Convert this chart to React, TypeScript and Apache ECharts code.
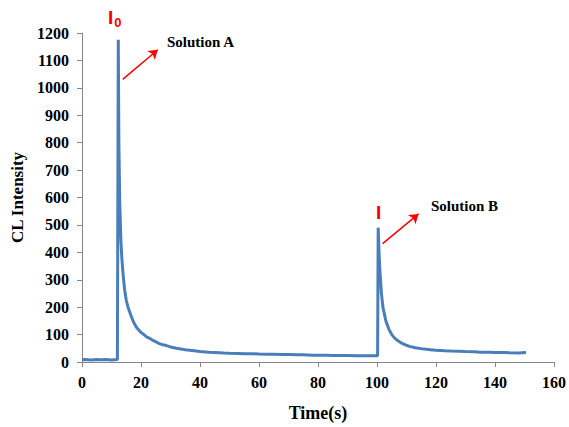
import React, { useEffect, useRef } from "react";
import * as echarts from "echarts";

const timeS = [
  0, 1, 2, 3, 4, 5, 6, 7, 8, 9, 10, 11, 12, 12.2,
  12.3, 12.5, 12.8, 13.2, 13.5, 14, 14.5, 15, 15.6, 16.5, 17.5, 18.5, 20, 21, 22, 23, 24, 25, 26, 27, 28.6, 30,
  32, 35, 38, 40, 43, 45, 48, 50, 53, 55, 58, 60, 63, 65, 68, 70, 73, 75, 78, 80, 83, 85, 88, 90, 93, 95, 98, 100.2,
  100.4, 100.7, 101, 101.5, 102, 103, 104, 105, 106, 107, 108, 110, 111, 113, 116, 118, 120, 123, 125, 128, 130, 133, 135, 138, 140, 143, 145, 148, 150.5,
];
const intensity = [
  8, 9, 8, 7, 8, 9, 8, 8, 9, 8, 7, 8, 9, 8,
  1175, 800, 580, 440, 380, 310, 260, 225, 200, 172, 145, 126, 108, 100, 91, 86, 79, 74, 68, 64, 60, 55,
  50, 45, 41, 38, 36, 35, 33, 32, 31, 30, 30, 29, 28, 28, 27, 27, 26, 26, 25, 25, 25, 24, 24, 24, 23, 23, 23, 23,
  490, 400, 330, 250, 200, 150, 120, 100, 87, 78, 71, 61, 57, 52, 47, 45, 43, 41, 40, 39, 38, 37, 36, 36, 35, 35, 34, 33, 35,
];
const xTicks = { min: 0, max: 160, interval: 20 };
const yTicks = { min: 0, max: 1200, interval: 100 };
const arrowA = [[13.8, 1031], [25.7, 1139]];
const arrowB = [[101.9, 432], [114.1, 540]];

export default function App() {
  const ref = useRef<HTMLDivElement>(null);
  useEffect(() => {
    if (!ref.current) return;
    const chart = echarts.init(ref.current, null, { renderer: "svg" });
    const serif = "'Liberation Serif', 'Times New Roman', serif";
    const axisLabel = {
      fontFamily: serif,
      fontWeight: "bold" as const,
      fontSize: 16,
      color: "#000",
      formatter: (v: number) => String(v),
    };
    chart.setOption({
      animation: false,
      backgroundColor: "#fff",
      grid: { left: 82, right: 13, top: 33, bottom: 59, containLabel: false },
      xAxis: {
        type: "value",
        min: xTicks.min,
        max: xTicks.max,
        interval: xTicks.interval,
        name: "Time(s)",
        nameLocation: "middle",
        nameGap: 42,
        nameTextStyle: { fontFamily: serif, fontWeight: "bold", fontSize: 18, color: "#000" },
        axisLine: { lineStyle: { color: "#868686", width: 1 } },
        axisTick: { show: true, length: 5, lineStyle: { color: "#868686" } },
        axisLabel: { ...axisLabel, margin: 12 },
        splitLine: { show: false },
      },
      yAxis: {
        type: "value",
        min: yTicks.min,
        max: yTicks.max,
        interval: yTicks.interval,
        name: "CL Intensity",
        nameLocation: "middle",
        nameGap: 54,
        nameTextStyle: { fontFamily: serif, fontWeight: "bold", fontSize: 17, color: "#000" },
        axisLine: { show: true, lineStyle: { color: "#868686", width: 1 } },
        axisTick: { show: true, length: 5, lineStyle: { color: "#868686" } },
        axisLabel: { ...axisLabel, margin: 13 },
        splitLine: { show: false },
      },
      series: [
        {
          type: "line",
          data: timeS.map((t, i) => [t, intensity[i]]),
          showSymbol: false,
          symbol: "none",
          lineStyle: { color: "#4A7EBB", width: 3 },
          markLine: {
            silent: true,
            symbol: ["none", "arrow"],
            symbolSize: 9,
            label: { show: false },
            lineStyle: { color: "#FF0000", width: 1.5, type: "solid" },
            data: [
              [{ coord: arrowA[0] }, { coord: arrowA[1] }],
              [{ coord: arrowB[0] }, { coord: arrowB[1] }],
            ],
          },
        },
      ],
      graphic: [
        {
          type: "text",
          left: 108,
          top: 8,
          style: {
            text: "{a|I}{b|0}",
            rich: {
              a: { fontFamily: "'Liberation Sans', Arial, sans-serif", fontWeight: "bold", fontSize: 19, fill: "#FF0000" },
              b: { fontFamily: "'Liberation Sans', Arial, sans-serif", fontWeight: "bold", fontSize: 13, fill: "#FF0000", padding: [10, 0, 0, 1] },
            },
          },
        },
        {
          type: "text",
          left: 167,
          top: 34,
          style: { text: "Solution A", fontFamily: serif, fontWeight: "bold", fontSize: 15, fill: "#000" },
        },
        {
          type: "text",
          left: 376,
          top: 203,
          style: { text: "I", fontFamily: "'Liberation Sans', Arial, sans-serif", fontWeight: "bold", fontSize: 19, fill: "#FF0000" },
        },
        {
          type: "text",
          left: 431,
          top: 198,
          style: { text: "Solution B", fontFamily: serif, fontWeight: "bold", fontSize: 15, fill: "#000" },
        },
      ],
    });
    return () => chart.dispose();
  }, []);
  return <div ref={ref} style={{ width: 569, height: 427, position: "absolute", left: 0, top: 0 }} />;
}
